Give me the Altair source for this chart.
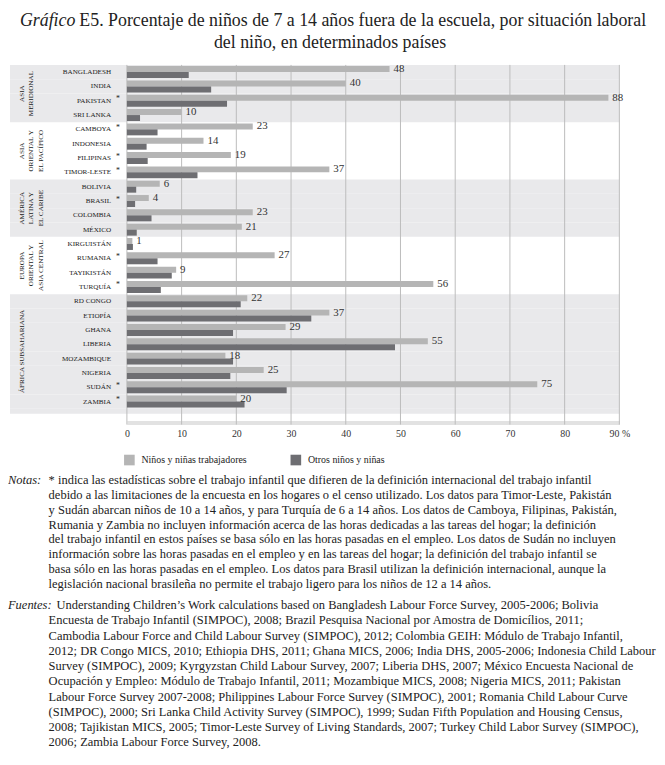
import altair as alt
import pandas as pd

countries = ["BANGLADESH", "INDIA", "PAKISTAN", "SRI LANKA",
             "CAMBOYA", "INDONESIA", "FILIPINAS", "TIMOR-LESTE",
             "BOLIVIA", "BRASIL", "COLOMBIA", "MÉXICO",
             "KIRGUISTÁN", "RUMANIA", "TAYIKISTÁN", "TURQUÍA",
             "RD CONGO", "ETIOPÍA", "GHANA", "LIBERIA", "MOZAMBIQUE", "NIGERIA", "SUDÁN", "ZAMBIA"]
region_idx = [0, 0, 0, 0, 1, 1, 1, 1, 2, 2, 2, 2, 3, 3, 3, 3, 4, 4, 4, 4, 4, 4, 4, 4]
working = [48, 40, 88, 10, 23, 14, 19, 37, 6, 4, 23, 21, 1, 27, 9, 56, 22, 37, 29, 55, 18, 25, 75, 20]
other = [11.3, 15.4, 18.3, 2.4, 5.6, 3.6, 3.8, 12.9, 1.7, 1.5, 4.5, 1.8,
         1.1, 5.6, 8.2, 6.2, 20.8, 33.7, 19.4, 49.0, 19.4, 18.9, 29.2, 21.5]
starred = ["PAKISTAN", "CAMBOYA", "FILIPINAS", "TIMOR-LESTE", "BRASIL", "RUMANIA", "TURQUÍA", "SUDÁN", "ZAMBIA"]
region_labels = ["ASIA\nMERIDIONAL", "ASIA\nORIENTAL Y\nEL PACÍFICO", "AMÉRICA\nLATINA Y\nEL CARIBE",
                 "EUROPA\nORIENTAL Y\nASIA CENTRAL", "ÁFRICA SUBSAHARIANA"]
region_anchor = ["INDIA", "INDONESIA", "BRASIL", "RUMANIA", "LIBERIA"]
series_names = ["Niños y niñas trabajadores", "Otros niños y niñas"]
series_colors = ["#b5b5b5", "#6e6e72"]
tick_values = [0, 10, 20, 30, 40, 50, 60, 70, 80, 90]

title_italic = "Gráfico"
title_rest = "E5. Porcentaje de niños de 7 a 14 años fuera de la escuela, por situación laboral"
title_line2 = "del niño, en determinados países"
notes_lines = [
    "* indica las estadísticas sobre el trabajo infantil que difieren de la definición internacional del trabajo infantil",
    "debido a las limitaciones de la encuesta en los hogares o el censo utilizado. Los datos para Timor-Leste, Pakistán",
    "y Sudán abarcan niños de 10 a 14 años, y para Turquía de 6 a 14 años. Los datos de Camboya, Filipinas, Pakistán,",
    "Rumania y Zambia no incluyen información acerca de las horas dedicadas a las tareas del hogar; la definición",
    "del trabajo infantil en estos países se basa sólo en las horas pasadas en el empleo. Los datos de Sudán no incluyen",
    "información sobre las horas pasadas en el empleo y en las tareas del hogar; la definición del trabajo infantil se",
    "basa sólo en las horas pasadas en el empleo. Los datos para Brasil utilizan la definición internacional, aunque la",
    "legislación nacional brasileña no permite el trabajo ligero para los niños de 12 a 14 años.",
]
fuentes_first = "Understanding Children’s Work calculations based on Bangladesh Labour Force Survey, 2005-2006; Bolivia"
fuentes_lines = [
    "Encuesta de Trabajo Infantil (SIMPOC), 2008; Brazil Pesquisa Nacional por Amostra de Domicílios, 2011;",
    "Cambodia Labour Force and Child Labour Survey (SIMPOC), 2012; Colombia GEIH: Módulo de Trabajo Infantil,",
    "2012; DR Congo MICS, 2010; Ethiopia DHS, 2011; Ghana MICS, 2006; India DHS, 2005-2006; Indonesia Child Labour",
    "Survey (SIMPOC), 2009; Kyrgyzstan Child Labour Survey, 2007; Liberia DHS, 2007; México Encuesta Nacional de",
    "Ocupación y Empleo: Módulo de Trabajo Infantil, 2011; Mozambique MICS, 2008; Nigeria MICS, 2011; Pakistan",
    "Labour Force Survey 2007-2008; Philippines Labour Force Survey (SIMPOC), 2001; Romania Child Labour Curve",
    "(SIMPOC), 2000; Sri Lanka Child Activity Survey (SIMPOC), 1999; Sudan Fifth Population and Housing Census,",
    "2008; Tajikistan MICS, 2005; Timor-Leste Survey of Living Standards, 2007; Turkey Child Labor Survey (SIMPOC),",
    "2006; Zambia Labour Force Survey, 2008.",
]

W = 497
H = 347
FONT = "Liberation Serif"
BG = "#e9e9eb"
TXT = "#222222"

rows = []
for c, w, o in zip(countries, working, other):
    rows.append({"country": c, "series": series_names[0], "value": w})
    rows.append({"country": c, "series": series_names[1], "value": o})
df = pd.DataFrame(rows)

bg = pd.DataFrame({"country": countries, "region": region_idx})
bg_shaded = bg[bg.region % 2 == 0]

x_scale = alt.Scale(domain=[0, 90], nice=False, zero=True)
x_axis = alt.Axis(values=tick_values, title=None, grid=False, ticks=False, tickSize=0,
                  domain=True, domainColor="#e2e2e2", domainWidth=4, offset=14,
                  labelPadding=6, labelFont=FONT, labelFontSize=10, labelColor="#333333",
                  labelFlush=False, labelExpr="datum.value == 90 ? '90 %' : datum.label")
y_scale = alt.Scale(paddingInner=0, paddingOuter=0)
y_axis = alt.Axis(title=None, ticks=False, domain=False, labelPadding=16.5, labelFont=FONT,
                  labelFontSize=7.2, labelColor=TXT)


def Y(**kw):
    return alt.Y("country:N", sort=countries, scale=y_scale, axis=y_axis, **kw)


def txt(s):
    return alt.Chart(pd.DataFrame({"t": [s]}))


background = alt.Chart(bg_shaded).mark_rect(color=BG).encode(
    x=alt.value(-118), x2=alt.value(W), y=Y())

background_ext = alt.Chart(pd.DataFrame({"country": [countries[-1]]})).mark_rect(color=BG).encode(
    x=alt.value(-118), x2=alt.value(W), y=Y(bandPosition=1), y2=alt.value(H + 5))

grid = alt.Chart(pd.DataFrame({"value": tick_values})).mark_rule(color="#bcbcbc", strokeWidth=1).encode(
    x=alt.X("value:Q", scale=x_scale, axis=x_axis), y=alt.value(0), y2=alt.value(H + 16))

bars = alt.Chart(df).mark_bar().encode(
    x=alt.X("value:Q", scale=x_scale, axis=x_axis),
    y=Y(),
    yOffset=alt.YOffset("series:N", sort=series_names, scale=alt.Scale(paddingInner=0, paddingOuter=0.2)),
    color=alt.Color("series:N", sort=series_names,
                    scale=alt.Scale(domain=series_names, range=series_colors),
                    legend=alt.Legend(title=None, orient="none", legendX=-3, legendY=393.2,
                                      direction="horizontal", symbolType="square", symbolSize=115,
                                      symbolStrokeWidth=0, labelFont=FONT, labelFontSize=10,
                                      labelColor=TXT, columnPadding=43, labelOffset=6.7, padding=0)),
)

labels = alt.Chart(df).transform_filter(
    alt.datum.series == series_names[0]
).mark_text(align="left", baseline="middle", dx=4, font=FONT, fontSize=11, color="#333333").encode(
    x=alt.X("value:Q", scale=x_scale, axis=x_axis),
    y=Y(),
    yOffset=alt.YOffset("series:N", sort=series_names, scale=alt.Scale(paddingInner=0, paddingOuter=0.2)),
    text=alt.Text("value:Q", format=".0f"),
)

stars = alt.Chart(pd.DataFrame({"country": starred, "s": ["*"] * len(starred)})).mark_text(
    align="left", baseline="middle", dy=-1.5, font=FONT, fontSize=8, color=TXT).encode(
    x=alt.value(-11), y=Y(), text="s:N")

reg = alt.Chart(pd.DataFrame({"country": region_anchor, "lab": region_labels})).mark_text(
    angle=270, align="center", baseline="top", lineBreak="\n", lineHeight=9.5,
    font=FONT, fontSize=7.2, color=TXT).encode(
    x=alt.value(-110), y=Y(bandPosition=1), text="lab:N")

TY = -53.6
title_style = dict(baseline="top", font=FONT, fontSize=18, color=TXT)
t1a = txt(title_italic).mark_text(align="right", fontStyle="italic", **title_style).encode(
    x=alt.value(-52), y=alt.value(TY), text="t:N")
t1b = txt(title_rest).mark_text(align="left", **title_style).encode(
    x=alt.value(-48), y=alt.value(TY), text="t:N")
t2 = txt(title_line2).mark_text(align="center", **title_style).encode(
    x=alt.value(205), y=alt.value(TY + 23), text="t:N")

note_style = dict(align="left", baseline="top", lineBreak="\n",
                  font=FONT, fontSize=12.6, color=TXT)
NY = 413.2
FY = 539.2

notas_head = txt("Notas:").mark_text(fontStyle="italic", lineHeight=14.9, **note_style).encode(
    x=alt.value(-120), y=alt.value(NY), text="t:N")
notas_body = txt("\n".join(notes_lines)).mark_text(lineHeight=14.9, **note_style).encode(
    x=alt.value(-79), y=alt.value(NY), text="t:N")
fuentes_head = txt("Fuentes:").mark_text(fontStyle="italic", lineHeight=15.4, **note_style).encode(
    x=alt.value(-120), y=alt.value(FY), text="t:N")
fuentes_top = txt(fuentes_first).mark_text(lineHeight=15.4, **note_style).encode(
    x=alt.value(-71), y=alt.value(FY), text="t:N")
fuentes_body = txt("\n".join(fuentes_lines)).mark_text(lineHeight=15.4, **note_style).encode(
    x=alt.value(-79), y=alt.value(FY + 15.4), text="t:N")

chart = alt.layer(
    background, background_ext, grid, bars, labels, stars, reg,
    t1a, t1b, t2,
    notas_head, notas_body, fuentes_head, fuentes_top, fuentes_body,
).properties(
    width=W, height=H, padding=0,
).configure_view(stroke=None)

chart.save("out.html", embed_options={"renderer": "svg", "actions": False})
